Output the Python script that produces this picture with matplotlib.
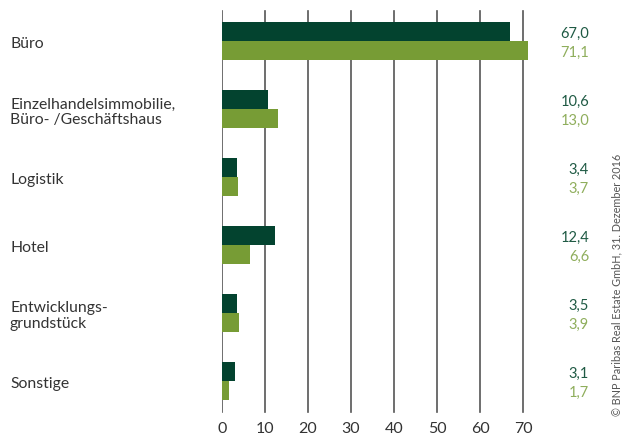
import numpy as np
import matplotlib
matplotlib.use("Agg")
import matplotlib.pyplot as plt

categories = ["Büro", "Einzelhandelsimmobilie,\nBüro- /Geschäftshaus", "Logistik",
              "Hotel", "Entwicklungs-\ngrundstück", "Sonstige"]
values_dark = [67.0, 10.6, 3.4, 12.4, 3.5, 3.1]
values_light = [71.1, 13.0, 3.7, 6.6, 3.9, 1.7]
xticks = [0, 10, 20, 30, 40, 50, 60, 70]

dark = "#03432f"
light = "#779c35"
dark_txt = "#1f5a44"
light_txt = "#8fae5c"

plt.rcParams['font.family'] = ['Lato', 'DejaVu Sans']

# pixel layout: x=0 at 222px, x=70 at 523px; group centres 41px .. 381px
px_per_unit = (523 - 222) / 70
xmax = 72
top_px, bot_px = 7, 415
fig = plt.figure(figsize=(6.25, 4.37), dpi=100)
ax = fig.add_axes([222 / 625, 1 - bot_px / 437, xmax * px_per_unit / 625, (bot_px - top_px) / 437])

n = len(categories)
y = np.arange(n)
h = 0.28
ax.barh(y - h / 2, values_dark, height=h, color=dark, zorder=3)
ax.barh(y + h / 2, values_light, height=h, color=light, zorder=3)

ax.set_ylim(n - 0.5, -0.5)
ax.set_xlim(0, xmax)
g_lo = (bot_px - 412) / (bot_px - top_px)
g_hi = (bot_px - 11) / (bot_px - top_px)
for xt in xticks:
    ax.axvline(xt, ymin=g_lo, ymax=g_hi, color="#555555", lw=1.2, zorder=1)

for s in ax.spines.values():
    s.set_visible(False)
ax.set_xticks(xticks)
ax.set_xticklabels([str(t) for t in xticks], fontsize=11.5, color="#333333")
ax.tick_params(axis="x", length=0, pad=5)
ax.set_yticks([])

fmt = lambda v: f"{v:.1f}".replace(".", ",")
for i in range(n):
    ax.annotate(categories[i], xy=(0, i), xycoords=("data", "data"),
                xytext=(10 - 222, -3), textcoords="offset pixels",
                ha="left", va="center", fontsize=11.3, color="#333333",
                linespacing=1.1)
    ax.annotate(fmt(values_dark[i]), xy=(70, i - h / 2), xycoords="data",
                xytext=(589 - 523, -2), textcoords="offset pixels",
                ha="right", va="center", fontsize=10.5, color=dark_txt)
    ax.annotate(fmt(values_light[i]), xy=(70, i + h / 2), xycoords="data",
                xytext=(589 - 523, -2), textcoords="offset pixels",
                ha="right", va="center", fontsize=10.5, color=light_txt)

fig.text(617 / 625, 1 - 285 / 437, "© BNP Paribas Real Estate GmbH, 31. Dezember 2016",
         rotation=90, ha="center", va="center", fontsize=7.8, color="#555555")

fig.savefig("out.png", dpi=100)
